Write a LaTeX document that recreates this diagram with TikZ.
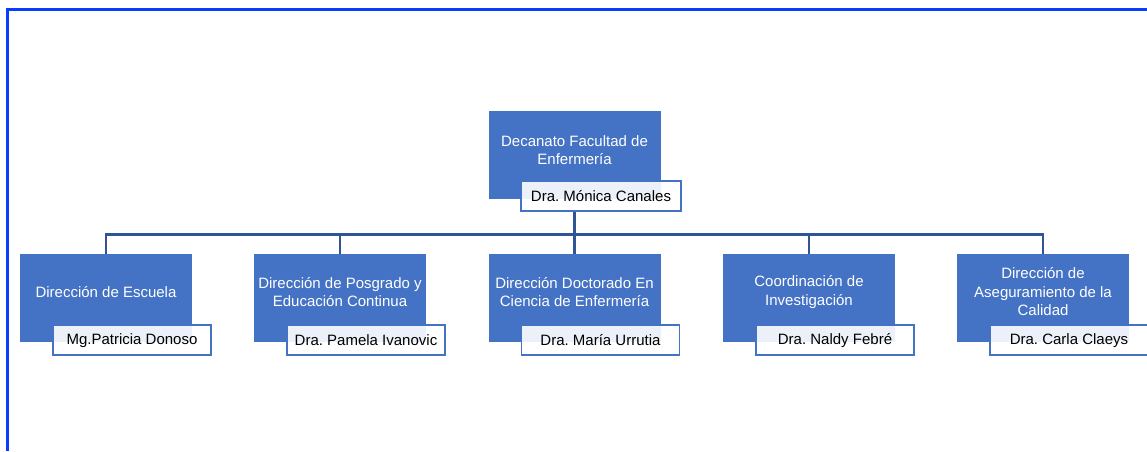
\documentclass[tikz,border=0pt]{standalone}
\usepackage{fontspec}
\setmainfont{Liberation Sans}
\usepackage{tikz}
\usetikzlibrary{positioning}
\definecolor{kasten}{HTML}{4472C4}
\definecolor{linie}{HTML}{2F5597}
\definecolor{rahmen}{HTML}{0A3CFF}
\frenchspacing

\begin{document}
\begin{tikzpicture}[x=1pt, y=-1pt,
% Stile fuer Kaesten und Linien
blaubox/.style={fill=kasten, minimum width=172pt, minimum height=88pt, inner sep=0pt},
blautext/.style={text=white, align=center, font=\fontsize{15}{18.5}\selectfont},
namebox/.style={draw=kasten, line width=1.8pt, fill=white, fill opacity=0.9, text opacity=1,
  minimum width=158pt, minimum height=30pt, inner sep=0pt, font=\fontsize{15}{18}\selectfont},
verbinder/.style={draw=linie, line width=2.6pt}
]
\useasboundingbox (0,0) rectangle (1147,451);

% Rahmen
\draw[rahmen, line width=3pt] (7,451) -- (7,9) -- (1147,9);

% Dekanat
\node[blaubox] (dek) at (574.5,155) {};
\node[blautext] (dektext) at (574.5,150) {Decanato Facultad de\\Enfermería};

% Verbindungen und Direktionen
\foreach \i/\x/\titel in {1/106/{Dirección de Escuela},
                          2/340/{Dirección de Posgrado y\\Educación Continua},
                          3/574.5/{Dirección Doctorado En\\Ciencia de Enfermería},
                          4/809/{Coordinación de\\Investigación},
                          5/1043/{Dirección de\\Aseguramiento de la\\Calidad}}
{
\node[blaubox] (k\i) at (\x,298) {};
\node[blautext] (k\i text) at (\x,292) {\titel};
\draw[verbinder] (dek.south) ++(0,13) -- ++(0,22) -| (k\i.north);
}

% Namen
\node[namebox, minimum width=160pt] (dekname) at (601,196) {Dra. Mónica Canales};
\foreach \i/\person in {1/{Mg.Patricia Donoso}, 2/{Dra. Pamela Ivanovic},
                        3/{Dra. María Urrutia}, 4/{Dra. Naldy Febré}, 5/{Dra. Carla Claeys}}
\node[namebox] (k\i name) at ([xshift=26pt, yshift=2pt]k\i.south) {\person};
\end{tikzpicture}
\end{document}
